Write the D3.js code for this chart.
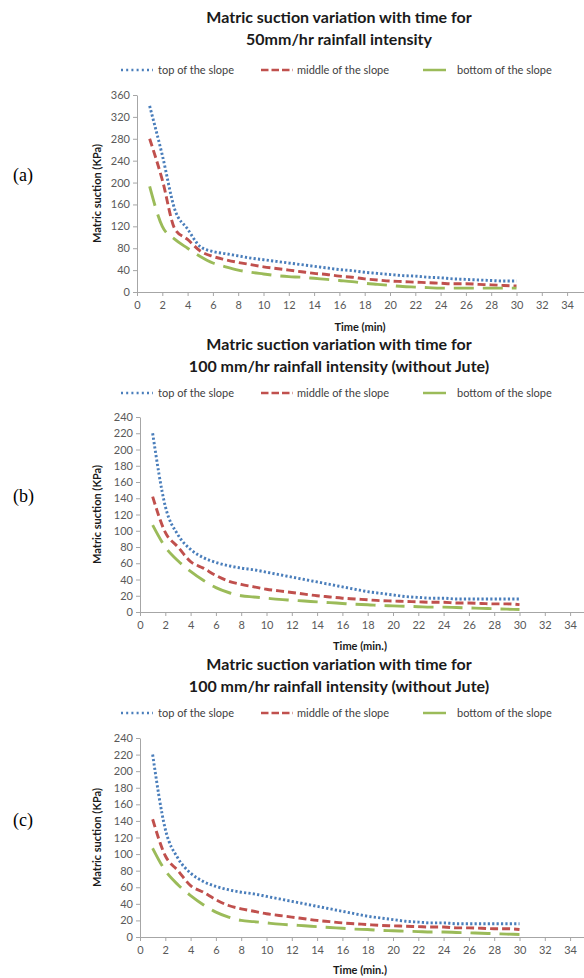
<!DOCTYPE html>
<html>
<head>
<meta charset="utf-8">
<script src="https://cdn.jsdelivr.net/npm/d3@7"></script>
<style>
  body { margin: 0; background: #fff; }
  svg { display: block; font-family: Lato, "Open Sans", sans-serif; }
</style>
</head>
<body>
<div id="container"></div>
<script>
/* CONSTANTS AND GLOBALS */
const width = 584;
const height = 978;

/* DATA */
const minutes = [1, 2, 3, 4, 5, 6, 7, 8, 9, 10, 11, 12, 13, 14, 15, 16, 17, 18, 19, 20, 21, 22, 23, 24, 25, 26, 27, 28, 29, 30];

// 50 mm/hr
const top50 = [340, 250, 150, 115, 83, 74, 70, 66, 62, 59, 56, 53, 50, 47, 44, 41, 39, 36, 34, 32, 30, 29, 27, 26, 24, 23, 22, 21, 20, 20];
const middle50 = [280, 205, 115, 96, 75, 65, 59, 54, 50, 46, 43, 40, 37, 34, 32, 29, 27, 24, 22, 20, 19, 18, 17, 16, 15, 15, 14, 13, 12, 11];
const bottom50 = [193, 120, 96, 80, 65, 53, 46, 40, 36, 33, 30, 28, 27, 25, 23, 21, 19, 16, 14, 12, 10, 9, 8, 7, 7, 7, 7, 7, 7, 7];

// 100 mm/hr (without Jute)
const top100 = [220, 130, 95, 77, 67, 61, 57, 54, 52, 49, 46, 43, 40, 37, 34, 31, 28, 25, 23, 21, 19, 18, 17, 17, 16, 16, 16, 16, 16, 16];
const middle100 = [142, 98, 80, 62, 54, 45, 38, 34, 31, 28, 26, 24, 22, 20, 18.5, 17, 16, 15, 14, 13.5, 13, 12.5, 12, 12, 11, 11, 10.5, 10, 10, 9];
const bottom100 = [107, 80, 63, 50, 39, 30, 24, 20, 18.5, 17, 15.5, 14.5, 13.5, 12.5, 11.5, 10.5, 9.5, 9, 8, 7.5, 7, 6.5, 6, 6, 5.5, 5, 4.5, 4, 3.5, 3];

const seriesNames = ["top of the slope", "middle of the slope", "bottom of the slope"];
const xTicks = [0, 2, 4, 6, 8, 10, 12, 14, 16, 18, 20, 22, 24, 26, 28, 30, 32, 34];
const yTicks50 = [0, 40, 80, 120, 160, 200, 240, 280, 320, 360];
const yTicks100 = [0, 20, 40, 60, 80, 100, 120, 140, 160, 180, 200, 220, 240];

const titles50 = ["Matric suction variation with time for", "50mm/hr rainfall intensity"];
const titles100 = ["Matric suction variation with time for", "100 mm/hr rainfall intensity (without Jute)"];

/* STYLES */
const seriesStyle = [
  { color: "#4a7ebb", dash: "2.2,2.2", legendDash: "2,3.2" },
  { color: "#c0504d", dash: "8,4", legendDash: "7.5,3" },
  { color: "#9bbb59", dash: "20,9", legendDash: null }
];

/* PANELS */
const panels = [
  { label: "(a)", labelY: 181, titles: titles50, titleY: 23, legendY: 70,
    series: [top50, middle50, bottom50], yMax: 360, yTicks: yTicks50,
    axisX: 137, y0: 292, y1: 95, xTitle: "Time (min)", xTitleY: 331 },
  { label: "(b)", labelY: 502, titles: titles100, titleY: 350, legendY: 393,
    series: [top100, middle100, bottom100], yMax: 240, yTicks: yTicks100,
    axisX: 140, y0: 612, y1: 417, xTitle: "Time (min.)", xTitleY: 650 },
  { label: "(c)", labelY: 826, titles: titles100, titleY: 670, legendY: 713,
    series: [top100, middle100, bottom100], yMax: 240, yTicks: yTicks100,
    axisX: 140, y0: 937, y1: 738, xTitle: "Time (min.)", xTitleY: 974 }
];

/* SVG ELEMENT */
const svg = d3.select("#container")
  .append("svg")
  .attr("width", width)
  .attr("height", height);

svg.append("rect").attr("width", width).attr("height", height).attr("fill", "#fff");

panels.forEach(p => {
  const g = svg.append("g");

  /* SCALES */
  const xScale = d3.scaleLinear()
    .domain([0, 36])
    .range([p.axisX, p.axisX + 36 * 12.65]);

  const yScale = d3.scaleLinear()
    .domain([0, p.yMax])
    .range([p.y0, p.y1]);

  /* PANEL LABEL */
  g.append("text")
    .attr("x", 13)
    .attr("y", p.labelY)
    .style("font-family", "'Liberation Serif', 'DejaVu Serif', serif")
    .style("font-size", "18px")
    .attr("fill", "#000")
    .text(p.label);

  /* TITLE */
  p.titles.forEach((t, i) => {
    g.append("text")
      .attr("x", 339)
      .attr("y", p.titleY + i * 22)
      .attr("text-anchor", "middle")
      .style("font-size", "16px")
      .style("font-weight", "bold")
      .attr("fill", "#1a1a1a")
      .text(t);
  });

  /* LEGEND */
  const legendX = [[121, 153, 158], [261, 293, 297], [423, 446, 457]];
  seriesNames.forEach((name, i) => {
    const [x1, x2, tx] = legendX[i];
    g.append("line")
      .attr("x1", x1).attr("x2", x2)
      .attr("y1", p.legendY).attr("y2", p.legendY)
      .attr("stroke", seriesStyle[i].color)
      .attr("stroke-width", 2.5)
      .attr("stroke-dasharray", seriesStyle[i].legendDash);
    g.append("text")
      .attr("x", tx)
      .attr("y", p.legendY + 4)
      .style("font-size", "11px")
      .attr("fill", "#404040")
      .text(name);
  });

  /* AXIS */
  const xAxis = d3.axisBottom(xScale)
    .tickValues(xTicks)
    .tickSize(4)
    .tickSizeOuter(0);
  const yAxis = d3.axisLeft(yScale)
    .tickValues(p.yTicks)
    .tickSize(4)
    .tickSizeOuter(0);

  const gx = g.append("g")
    .attr("transform", `translate(0, ${p.y0})`)
    .call(xAxis);
  const gy = g.append("g")
    .attr("transform", `translate(${p.axisX}, 0)`)
    .call(yAxis);

  [gx, gy].forEach(a => {
    a.selectAll("path, line").attr("stroke", "#a6a6a6");
    a.selectAll("text")
      .attr("fill", "#595959")
      .style("font-size", "11px")
      .style("font-family", "Lato, sans-serif");
  });
  gx.selectAll("text").attr("dy", "0.9em");

  /* AXIS LABELS */
  g.append("text")
    .attr("x", 360)
    .attr("y", p.xTitleY)
    .attr("text-anchor", "middle")
    .style("font-size", "11px")
    .style("font-weight", "bold")
    .attr("fill", "#1a1a1a")
    .text(p.xTitle);

  g.append("text")
    .attr("transform", "rotate(-90)")
    .attr("x", -(p.y0 + p.y1) / 2)
    .attr("y", 101)
    .attr("text-anchor", "middle")
    .style("font-size", "11px")
    .style("font-weight", "bold")
    .attr("fill", "#1a1a1a")
    .text("Matric suction (KPa)");

  /* LINES */
  const line = d3.line()
    .x((d, i) => xScale(minutes[i]))
    .y(d => yScale(d))
    .curve(d3.curveMonotoneX);

  p.series.forEach((values, i) => {
    g.append("path")
      .datum(values)
      .attr("d", line)
      .attr("fill", "none")
      .attr("stroke", seriesStyle[i].color)
      .attr("stroke-width", 2.9)
      .attr("stroke-dasharray", seriesStyle[i].dash);
  });
});
</script>
</body>
</html>
